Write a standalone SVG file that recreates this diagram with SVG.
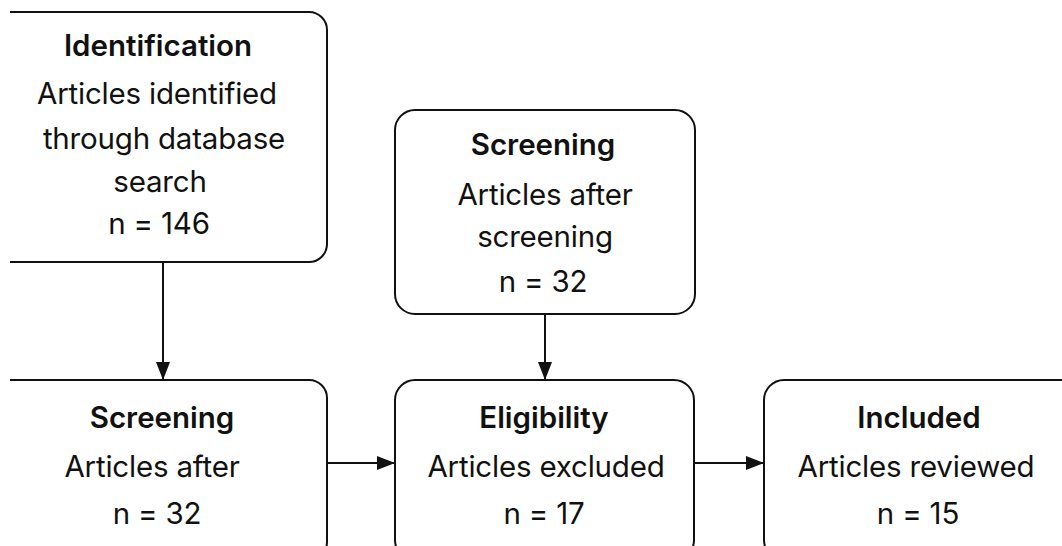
<svg xmlns="http://www.w3.org/2000/svg" width="1062" height="546" viewBox="0 0 1062 546">
<style>
.box{fill:#fff;stroke:#111;stroke-width:2}
.t{font-family:Inter,"Liberation Sans",sans-serif;font-size:29.5px;font-weight:600;fill:#111;text-anchor:middle}
.b{font-family:Inter,"Liberation Sans",sans-serif;font-size:29.5px;fill:#111;text-anchor:middle;letter-spacing:-0.2px}
.c{stroke:#111;stroke-width:2;fill:none}
</style>
<defs>
<marker id="ah" markerUnits="userSpaceOnUse" markerWidth="18" markerHeight="14" refX="17" refY="7" orient="auto">
<path d="M0,0 L18,7 L0,14 z" fill="#111"/>
</marker>
</defs>
<rect width="1062" height="546" fill="#fff"/>
<g id="connectors">
<line class="c" x1="163" y1="262" x2="163" y2="379" marker-end="url(#ah)"/>
<line class="c" x1="545" y1="314" x2="545" y2="379" marker-end="url(#ah)"/>
<line class="c" x1="327" y1="463" x2="394" y2="463" marker-end="url(#ah)"/>
<line class="c" x1="694" y1="463" x2="763" y2="463" marker-end="url(#ah)"/>
</g>
<g id="identification">
<path class="box" d="M10,12 H309 A18,18 0 0 1 327,30 V244 A18,18 0 0 1 309,262 H10"/>
<text class="t" x="158" y="56">Identification</text>
<text class="b" x="157" y="104">Articles identified</text>
<text class="b" x="164" y="149">through database</text>
<text class="b" x="160" y="192">search</text>
<text class="b" x="159" y="234">n = 146</text>
</g>
<g id="screening-top">
<rect class="box" x="395" y="110" width="300" height="204" rx="20"/>
<text class="t" x="543" y="155">Screening</text>
<text class="b" x="545" y="205">Articles after</text>
<text class="b" x="545" y="247">screening</text>
<text class="b" x="543" y="292">n = 32</text>
</g>
<g id="screening">
<path class="box" d="M10,380 H309 A18,18 0 0 1 327,398 V542 A18,18 0 0 1 309,560 H10"/>
<text class="t" x="162" y="428">Screening</text>
<text class="b" x="152" y="477">Articles after</text>
<text class="b" x="157" y="524">n = 32</text>
</g>
<g id="eligibility">
<rect class="box" x="395" y="380" width="299" height="180" rx="20"/>
<text class="t" x="544" y="428">Eligibility</text>
<text class="b" x="546" y="477">Articles excluded</text>
<text class="b" x="544" y="524">n = 17</text>
</g>
<g id="included">
<rect class="box" x="764" y="380" width="320" height="180" rx="20"/>
<text class="t" x="919" y="428">Included</text>
<text class="b" x="916" y="477">Articles reviewed</text>
<text class="b" x="918" y="524">n = 15</text>
</g>
</svg>
